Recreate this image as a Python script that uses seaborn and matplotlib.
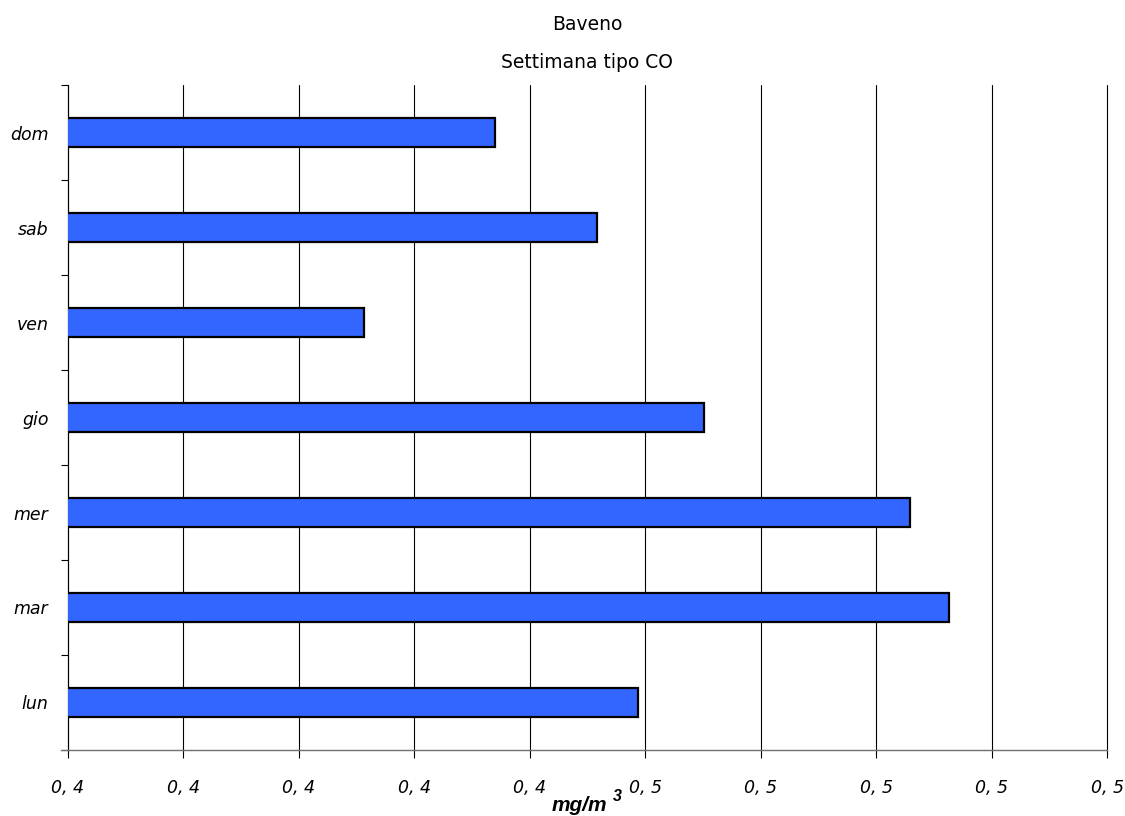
import numpy as np
import pandas as pd
import matplotlib
matplotlib.use("Agg")
import matplotlib.pyplot as plt
from matplotlib.ticker import MultipleLocator, FuncFormatter, FixedLocator
from decimal import Decimal, ROUND_HALF_UP
import seaborn as sns

# Weekly typical CO concentration, Baveno
days = ["dom", "sab", "ven", "gio", "mer", "mar", "lun"]
co_values = [0.4370, 0.4458, 0.4256, 0.4551, 0.4729, 0.4763, 0.4494]
x_min, x_max, x_step = 0.40, 0.49, 0.01

df = pd.DataFrame({"giorno": days, "co": co_values})

sns.set_style("white")
plt.rcParams["font.family"] = ["DejaVu Sans"]
plt.rcParams.update({"text.color": "black", "xtick.color": "black",
                     "ytick.color": "black", "axes.labelcolor": "black"})

fig = plt.figure(figsize=(11.25, 8.16), dpi=100)
ax = fig.add_axes([0.0604, 0.0809, 0.9236, 0.8149])

sns.barplot(data=df, y="giorno", x="co", order=days, orient="h",
            color="#3366FF", saturation=1, width=0.3,
            edgecolor="black", linewidth=1.6, ax=ax, zorder=3)

ax.set_xlim(x_min, x_max)
ax.set_ylim(len(days) - 0.5, -0.5)

def fmt(v, pos):
    d = Decimal(str(round(v, 4))).quantize(Decimal("0.1"), rounding=ROUND_HALF_UP)
    return str(d).replace(".", ", ")

ax.xaxis.set_major_locator(MultipleLocator(x_step))
ax.xaxis.set_major_formatter(FuncFormatter(fmt))
ax.grid(axis="x", color="black", linewidth=0.8, zorder=0)
ax.grid(axis="y", visible=False)

# category boundaries carry the y tick marks
ax.yaxis.set_minor_locator(FixedLocator(np.arange(-0.5, len(days), 1.0)))
ax.tick_params(axis="y", which="major", left=False, length=0, pad=14, labelsize=12.5)
ax.tick_params(axis="y", which="minor", left=True, length=5, width=0.8,
               color="black", direction="out")
ax.tick_params(axis="x", which="major", bottom=True, length=6, width=0.8,
               color="black", direction="out", pad=15, labelsize=12.5)
for lab in ax.get_yticklabels() + ax.get_xticklabels():
    lab.set_fontstyle("italic")

for side in ("top", "right"):
    ax.spines[side].set_visible(False)
ax.spines["left"].set_color("black")
ax.spines["left"].set_linewidth(0.8)
ax.spines["bottom"].set_color("#707070")
ax.spines["bottom"].set_linewidth(1.0)
ax.spines["bottom"].set_bounds(x_min - 0.0006, x_max)

ax.set_ylabel("")
ax.set_xlabel("")
fig.text(552 / 1125, 1 - 811 / 816, "mg/m", ha="left", va="baseline",
         fontsize=15, fontweight="bold", fontstyle="italic",
         family="Liberation Sans")
fig.text(613 / 1125, 1 - 801 / 816, "3", ha="left", va="baseline",
         fontsize=11.5, fontweight="bold", fontstyle="italic",
         family="Liberation Sans")

fig.text(0.522, 1 - 24 / 816, "Baveno", ha="center", va="center", fontsize=13.5)
fig.text(0.522, 1 - 62 / 816, "Settimana tipo CO", ha="center", va="center",
         fontsize=13.5)

# keep the gridline on the right edge of the axis fully visible
fig.canvas.draw()
for line in ax.get_xgridlines():
    line.set_clip_on(False)

fig.savefig("out.png", dpi=100)
